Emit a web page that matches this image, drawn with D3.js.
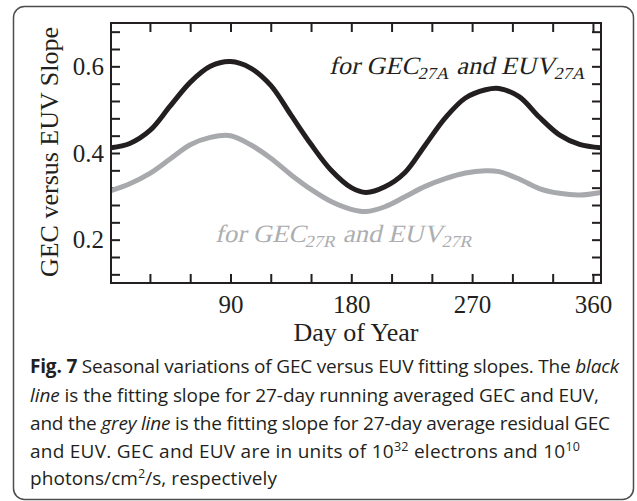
<!DOCTYPE html>
<html>
<head>
<meta charset="utf-8">
<script src="https://cdn.jsdelivr.net/npm/d3@7"></script>
<style>
  html, body { margin: 0; padding: 0; background: #fff; }
  svg { display: block; }
  .serif { font-family: "Liberation Serif", "Times New Roman", serif; }
  .cap { font-family: "Open Sans", "Noto Sans", sans-serif; fill: #231f20; font-size: 19px; }
  .cap .sup { font-size: 12.5px; }
</style>
</head>
<body>
<svg id="chart" width="637" height="501"></svg>
<script>
// ── Data ─────────────────────────────────────────────────
const days       = [1, 15, 30, 45, 60, 75, 90, 105, 120, 135, 150, 165, 180, 191, 205, 220, 235, 250, 265, 280, 290, 305, 320, 335, 350, 366];
const slope27A   = [0.412, 0.422, 0.452, 0.508, 0.563, 0.600, 0.611, 0.596, 0.556, 0.488, 0.420, 0.360, 0.320, 0.309, 0.322, 0.355, 0.418, 0.481, 0.527, 0.546, 0.549, 0.530, 0.483, 0.442, 0.420, 0.412];
const slope27R   = [0.313, 0.329, 0.353, 0.386, 0.419, 0.436, 0.440, 0.419, 0.388, 0.350, 0.316, 0.288, 0.270, 0.265, 0.276, 0.299, 0.323, 0.341, 0.354, 0.359, 0.357, 0.340, 0.318, 0.307, 0.303, 0.309];
const xTicks     = [30, 60, 90, 120, 150, 180, 210, 240, 270, 300, 330, 360];
const xLabels    = [90, 180, 270, 360];
const yTicks     = [0.12, 0.16, 0.2, 0.24, 0.28, 0.32, 0.36, 0.4, 0.44, 0.48, 0.52, 0.56, 0.6, 0.64, 0.68];
const yLabels    = [0.2, 0.4, 0.6];

const BLACK = '#231f20';
const GREY  = '#a7a9ac';

const svg = d3.select('#chart');

// ── Outer rounded frame ──────────────────────────────────
svg.append('rect')
  .attr('x', 13.5).attr('y', 6.5)
  .attr('width', 620).attr('height', 493)
  .attr('rx', 11).attr('ry', 11)
  .attr('fill', 'none')
  .attr('stroke', '#4d4d4f')
  .attr('stroke-width', 1.5);

// ── Plot area ────────────────────────────────────────────
const L = 111, R = 601, T = 23, B = 283;

const x = d3.scaleLinear().domain([1, 366]).range([L, R]);
const y = d3.scaleLinear().domain([0.1, 0.7]).range([B, T]);

const tickLen = 9;
const fmtX = d => xLabels.includes(d) ? d : '';
const fmtY = d => yLabels.some(v => Math.abs(v - d) < 1e-9) ? d.toFixed(1) : '';

const axisStyle = g => {
  g.select('.domain').remove();
  g.selectAll('.tick line').attr('stroke', BLACK).attr('stroke-width', 2);
  g.selectAll('.tick text')
    .attr('class', 'serif')
    .attr('fill', BLACK)
    .style('font-size', '25px');
};

svg.append('g')
  .attr('transform', `translate(0,${B})`)
  .call(d3.axisBottom(x).tickValues(xTicks).tickSize(-tickLen).tickPadding(12).tickFormat(fmtX))
  .call(axisStyle);

svg.append('g')
  .attr('transform', `translate(0,${T})`)
  .call(d3.axisTop(x).tickValues(xTicks).tickSize(-tickLen).tickFormat(''))
  .call(axisStyle);

svg.append('g')
  .attr('transform', `translate(${L},0)`)
  .call(d3.axisLeft(y).tickValues(yTicks).tickSize(-tickLen).tickPadding(7).tickFormat(fmtY))
  .call(axisStyle);

svg.append('g')
  .attr('transform', `translate(${R},0)`)
  .call(d3.axisRight(y).tickValues(yTicks).tickSize(-tickLen).tickFormat(''))
  .call(axisStyle);

// ── Lines ────────────────────────────────────────────────
const line = vals => d3.line()
  .x((d, i) => x(days[i]))
  .y(d => y(d))
  .curve(d3.curveCatmullRom.alpha(0.5))(vals);

svg.append('path')
  .attr('d', line(slope27R))
  .attr('fill', 'none')
  .attr('stroke', GREY)
  .attr('stroke-width', 5);

svg.append('path')
  .attr('d', line(slope27A))
  .attr('fill', 'none')
  .attr('stroke', BLACK)
  .attr('stroke-width', 5);

// frame on top
svg.append('rect')
  .attr('x', L).attr('y', T)
  .attr('width', R - L).attr('height', B - T)
  .attr('fill', 'none')
  .attr('stroke', BLACK)
  .attr('stroke-width', 2);

// ── Series labels (slanted serif, fitted to the reference width) ──
function seriesLabel(xPos, yPos, anchor, color, sub, width) {
  const g = svg.append('g');
  const t = g.append('text')
    .attr('class', 'serif')
    .attr('fill', color)
    .style('font-size', '25px');
  t.append('tspan').text('for GEC');
  t.append('tspan').attr('dy', 5).style('font-size', '17px').text(sub);
  t.append('tspan').attr('dy', -5).text(' and EUV');
  t.append('tspan').attr('dy', 5).style('font-size', '17px').text(sub);
  const w = t.node().getComputedTextLength();
  const sx = width / w;
  const x0 = anchor === 'end' ? xPos - width : xPos;
  g.attr('transform', `translate(${x0},${yPos}) skewX(-13) scale(${sx},1)`);
}
seriesLabel(586, 74, 'end', BLACK, '27A', 257);
seriesLabel(215, 242, 'start', '#acaeb1', '27R', 258);

// ── Axis titles ──────────────────────────────────────────
svg.append('text')
  .attr('class', 'serif')
  .attr('x', 356).attr('y', 341)
  .attr('text-anchor', 'middle')
  .attr('fill', BLACK)
  .style('font-size', '26px')
  .text('Day of Year');

svg.append('text')
  .attr('class', 'serif')
  .attr('transform', 'translate(58,152) rotate(-90)')
  .attr('text-anchor', 'middle')
  .attr('fill', BLACK)
  .style('font-size', '26px')
  .text('GEC versus EUV Slope');

// ── Caption ──────────────────────────────────────────────
const captionLines = [
  [['b', 'Fig. 7'], ['', ' Seasonal variations of GEC versus EUV fitting slopes. The '], ['i', 'black']],
  [['i', 'line'], ['', ' is the fitting slope for 27-day running averaged GEC and EUV,']],
  [['', 'and the '], ['i', 'grey line'], ['', ' is the fitting slope for 27-day average residual GEC']],
  [['', 'and EUV. GEC and EUV are in units of 10'], ['sup', '32'], ['', ' electrons and 10'], ['sup', '10']],
  [['', 'photons/cm'], ['sup', '2'], ['', '/s, respectively']]
];
const capBase  = [373, 401.5, 429.5, 457.5, 485];
const capWidth = [589, 569, 580, 550, 247];

captionLines.forEach((parts, li) => {
  const t = svg.append('text')
    .attr('class', 'cap')
    .attr('x', 30).attr('y', capBase[li])
    .attr('textLength', capWidth[li])
    .attr('lengthAdjust', 'spacing');
  let raised = false;
  parts.forEach(([kind, str]) => {
    const s = t.append('tspan').text(str);
    if (kind === 'b') s.style('font-weight', 'bold');
    if (kind === 'i') s.style('font-style', 'italic');
    if (kind === 'sup') {
      s.attr('class', 'sup').attr('dy', raised ? 0 : -7);
      raised = true;
    } else if (raised) {
      s.attr('dy', 7);
      raised = false;
    }
  });
});
</script>
</body>
</html>
